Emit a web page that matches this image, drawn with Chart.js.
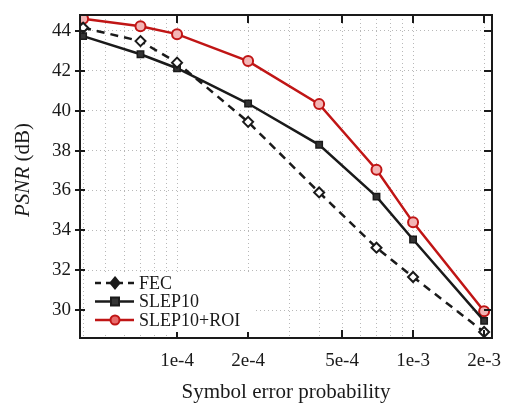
<!DOCTYPE html>
<html>
<head>
<meta charset="utf-8">
<script src="https://cdn.jsdelivr.net/npm/chart.js@4/dist/chart.umd.min.js"></script>
<style>
  html, body { margin: 0; padding: 0; background: #fff; }
  #wrap { width: 507px; height: 407px; }
</style>
</head>
<body>
<div id="wrap"><canvas id="psnrChart" width="507" height="407"></canvas></div>
<script>
// data
const symbolErr = [4e-5, 7e-5, 1e-4, 2e-4, 4e-4, 7e-4, 1e-3, 2e-3];
const fecPsnr = [44.16, 43.49, 42.41, 39.44, 35.9, 33.13, 31.66, 28.9];
const slepPsnr = [43.74, 42.83, 42.13, 40.36, 38.29, 35.69, 33.54, 29.46];
const slepRoiPsnr = [44.61, 44.24, 43.84, 42.49, 40.33, 37.04, 34.4, 29.94];

const xLabelTicks = [1e-4, 2e-4, 5e-4, 1e-3, 2e-3];
const xGridTicks = [4e-5, 5e-5, 6e-5, 7e-5, 8e-5, 9e-5,
  1e-4, 2e-4, 3e-4, 4e-4, 5e-4, 6e-4, 7e-4, 8e-4, 9e-4, 1e-3, 2e-3];
const yTicks = [30, 32, 34, 36, 38, 40, 42, 44];

const serif = "'Liberation Serif', 'DejaVu Serif', serif";
const ink = '#1a1a1a';
const redLine = '#c01515';

function toPoints(ys) {
  return symbolErr.map((x, i) => ({ x: x, y: ys[i] }));
}

function labelFor(v) {
  const hit = xLabelTicks.find((t) => Math.abs(t - v) / t < 1e-6);
  if (!hit) return '';
  const exp = Math.floor(Math.log10(hit) + 1e-9);
  const mant = Math.round(hit / Math.pow(10, exp));
  return mant + 'e' + exp;
}

const legendItems = [
  { text: 'FEC', color: ink, dash: [6, 5], style: 'diamond' },
  { text: 'SLEP10', color: ink, dash: [], style: 'square' },
  { text: 'SLEP10+ROI', color: redLine, dash: [], style: 'circle' }
];

function drawMarker(ctx, style, x, y, color) {
  ctx.save();
  ctx.setLineDash([]);
  ctx.lineWidth = 2;
  ctx.strokeStyle = color;
  if (style === 'diamond') {
    ctx.fillStyle = ink;
    ctx.beginPath();
    ctx.moveTo(x, y - 5.5); ctx.lineTo(x + 4.5, y); ctx.lineTo(x, y + 5.5); ctx.lineTo(x - 4.5, y);
    ctx.closePath(); ctx.fill(); ctx.stroke();
  } else if (style === 'square') {
    ctx.fillStyle = '#333';
    ctx.fillRect(x - 4, y - 4, 8, 8);
    ctx.strokeRect(x - 4, y - 4, 8, 8);
  } else {
    ctx.fillStyle = '#e86a6a';
    ctx.beginPath(); ctx.arc(x, y, 4.5, 0, Math.PI * 2); ctx.fill(); ctx.stroke();
  }
  ctx.restore();
}

const framePlugin = {
  id: 'frame',
  afterDraw(chart) {
    const { ctx, chartArea: a, scales } = chart;
    const xs = scales.x;
    const ys = scales.y;
    ctx.save();
    // ticks
    ctx.strokeStyle = ink;
    ctx.lineWidth = 2;
    ctx.beginPath();
    xLabelTicks.forEach((v) => {
      const px = Math.round(xs.getPixelForValue(v));
      ctx.moveTo(px, a.bottom); ctx.lineTo(px, a.bottom - 8);
      ctx.moveTo(px, a.top); ctx.lineTo(px, a.top + 8);
    });
    yTicks.forEach((v) => {
      const py = Math.round(ys.getPixelForValue(v));
      ctx.moveTo(a.left - 5, py); ctx.lineTo(a.left + 5, py);
      ctx.moveTo(a.right, py); ctx.lineTo(a.right - 8, py);
    });
    ctx.stroke();
    // frame
    ctx.lineWidth = 2;
    ctx.strokeRect(a.left, a.top, a.right - a.left, a.bottom - a.top);

    // legend
    ctx.fillStyle = '#fff';
    ctx.fillRect(a.left + 5, a.bottom - 64, 168, 58);
    legendItems.forEach((it, i) => {
      const y = a.bottom - 55 + i * 18.5;
      ctx.save();
      ctx.strokeStyle = it.color;
      ctx.lineWidth = 2.5;
      ctx.setLineDash(it.dash);
      ctx.beginPath(); ctx.moveTo(a.left + 15, y); ctx.lineTo(a.left + 54, y); ctx.stroke();
      ctx.restore();
      drawMarker(ctx, it.style, a.left + 35, y, it.color);
      ctx.fillStyle = ink;
      ctx.font = '18px ' + serif;
      ctx.textBaseline = 'middle';
      ctx.textAlign = 'left';
      ctx.fillText(it.text, a.left + 59, y + 1);
    });

    // axis titles
    ctx.fillStyle = ink;
    ctx.font = '21px ' + serif;
    ctx.textAlign = 'center';
    ctx.textBaseline = 'alphabetic';
    ctx.fillText('Symbol error probability', (a.left + a.right) / 2, 398);

    ctx.translate(29, 170);
    ctx.rotate(-Math.PI / 2);
    const part1 = 'PSNR';
    const part2 = ' (dB)';
    ctx.font = 'italic 21px ' + serif;
    const w1 = ctx.measureText(part1).width;
    ctx.font = '21px ' + serif;
    const w2 = ctx.measureText(part2).width;
    const x0 = -(w1 + w2) / 2;
    ctx.textAlign = 'left';
    ctx.font = 'italic 21px ' + serif;
    ctx.fillText(part1, x0, 0);
    ctx.font = '21px ' + serif;
    ctx.fillText(part2, x0 + w1, 0);
    ctx.restore();
  }
};

const ctx = document.querySelector('#psnrChart');
const psnrChart = new Chart(ctx, {
  type: 'line',
  data: {
    datasets: [
      {
        label: 'FEC',
        data: toPoints(fecPsnr),
        borderColor: ink,
        borderWidth: 2.5,
        borderDash: [8, 6],
        pointStyle: 'rectRot',
        pointRadius: 5,
        pointBorderWidth: 2,
        pointBackgroundColor: '#fff',
        pointBorderColor: ink
      },
      {
        label: 'SLEP10',
        data: toPoints(slepPsnr),
        borderColor: ink,
        borderWidth: 2.5,
        pointStyle: 'rect',
        pointRadius: 4.5,
        pointBorderWidth: 1.5,
        pointBackgroundColor: '#333',
        pointBorderColor: ink
      },
      {
        label: 'SLEP10+ROI',
        data: toPoints(slepRoiPsnr),
        borderColor: redLine,
        borderWidth: 2.5,
        pointStyle: 'circle',
        pointRadius: 5,
        pointBorderWidth: 2,
        pointBackgroundColor: '#f3b5b5',
        pointBorderColor: redLine
      }
    ]
  },
  options: {
    responsive: false,
    animation: false,
    layout: { padding: { top: 15, right: 15, left: 0, bottom: 0 } },
    elements: { line: { tension: 0 } },
    plugins: {
      legend: { display: false },
      tooltip: { enabled: false }
    },
    scales: {
      x: {
        type: 'logarithmic',
        min: 3.88e-5,
        max: 2.16e-3,
        afterBuildTicks: (scale) => {
          scale.ticks = xGridTicks.map((v) => ({ value: v }));
        },
        afterFit: (scale) => {
          scale.height = 69;
          scale.paddingLeft = 0;
          scale.paddingRight = 0;
        },
        grid: { color: '#b8b8b8', lineWidth: 1, drawTicks: false },
        border: { display: false, dash: [1, 3] },
        ticks: {
          autoSkip: false,
          maxRotation: 0,
          padding: 12,
          color: ink,
          font: { family: serif, size: 19 },
          callback: (v) => labelFor(v)
        }
      },
      y: {
        min: 28.6,
        max: 44.8,
        afterBuildTicks: (scale) => {
          scale.ticks = yTicks.map((v) => ({ value: v }));
        },
        afterFit: (scale) => {
          scale.width = 80;
          scale.paddingTop = 0;
          scale.paddingBottom = 0;
        },
        grid: { color: '#b8b8b8', lineWidth: 1, drawTicks: false },
        border: { display: false, dash: [1, 3] },
        ticks: {
          padding: 9,
          color: ink,
          font: { family: serif, size: 19 }
        }
      }
    }
  },
  plugins: [framePlugin]
});
</script>
</body>
</html>
